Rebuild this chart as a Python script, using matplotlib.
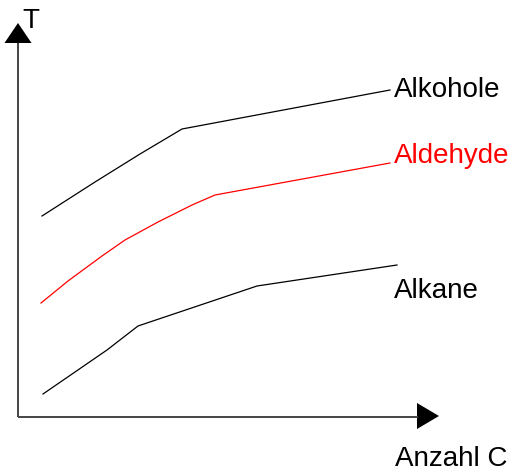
import matplotlib
matplotlib.use("Agg")
import matplotlib.pyplot as plt
from matplotlib.patches import Polygon

plt.rcParams['font.family'] = ['Liberation Sans', 'DejaVu Sans']

# Data (arbitrary units: x = Anzahl C, y = T)
alkohole_x = [24, 77, 122, 164, 372]
alkohole_y = [201, 235, 263, 288, 327]

aldehyde_x = [23, 50, 84, 107, 140, 174, 197, 372]
aldehyde_y = [114, 136, 161, 177, 195, 212, 222, 254]

alkane_x = [25, 89, 120, 239, 379]
alkane_y = [23, 67, 91, 131, 152]

labels = ["Alkohole", "Aldehyde", "Alkane"]
label_y = [320, 254, 119]
label_colors = ["black", "red", "black"]
x_axis_label = "Anzahl C"
y_axis_label = "T"

fig = plt.figure(figsize=(5.16, 4.72), dpi=100)
ax = fig.add_axes([0, 0, 1, 1])
ax.set_xlim(-18, 498)
ax.set_ylim(-55, 417)
ax.axis('off')

# Axes lines with arrows
x_end, y_end = 400, 374
ax.plot([0, x_end], [0, 0], color='#444444', lw=1.4, solid_capstyle='butt')
ax.plot([0, 0], [0, y_end], color='#444444', lw=1.4, solid_capstyle='butt')
ax.add_patch(Polygon([[0, y_end + 20], [-13.5, y_end], [13.5, y_end]],
                     closed=True, color='black', lw=0))
ax.add_patch(Polygon([[x_end + 21, 1], [x_end - 1, 14], [x_end - 1, -12]],
                     closed=True, color='black', lw=0))

# Curves
ax.plot(alkohole_x, alkohole_y, color='black', lw=0.9)
ax.plot(aldehyde_x, aldehyde_y, color='red', lw=0.9)
ax.plot(alkane_x, alkane_y, color='black', lw=0.9)

fs = 20
for lab, ly, c in zip(labels, label_y, label_colors):
    ax.text(376, ly, lab, color=c, fontsize=fs, ha='left', va='baseline')

ax.text(377, -49, x_axis_label, fontsize=fs, ha='left', va='baseline')
ax.text(4, 389, y_axis_label, fontsize=fs, ha='left', va='baseline')

fig.savefig("out.png", dpi=100)
